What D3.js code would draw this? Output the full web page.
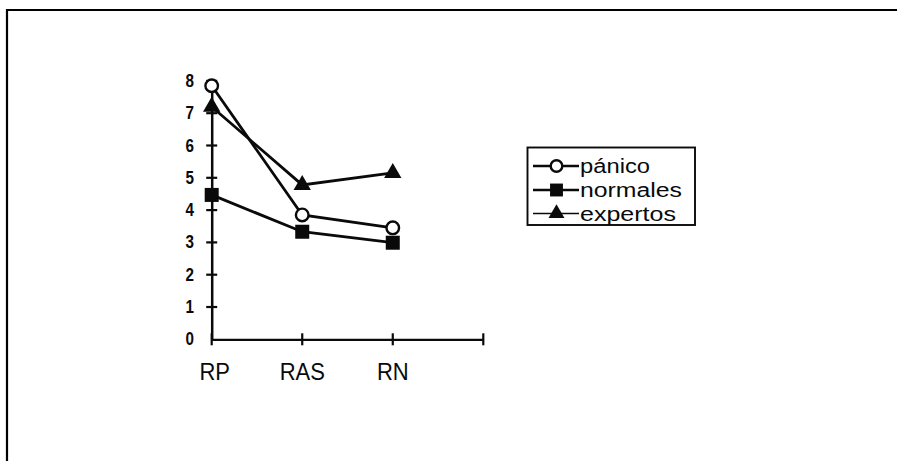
<!DOCTYPE html>
<html><head><meta charset="utf-8">
<script src="https://cdn.jsdelivr.net/npm/d3@7"></script>
<style>body{margin:0;background:#fff}svg{display:block}</style>
</head><body>
<script>
const categories = ["RP", "RAS", "RN"];
const panico = [7.85, 3.85, 3.45];
const normales = [4.47, 3.33, 2.99];
const expertos = [7.2, 4.78, 5.15];
const seriesNames = ["pánico", "normales", "expertos"];
const yTicks = [0, 1, 2, 3, 4, 5, 6, 7, 8];

const W = 897, H = 461;
const svg = d3.select("body").append("svg").attr("width", W).attr("height", H);

// frame (top + left edges only)
svg.append("path").attr("d", `M7,${H} V10 H${W}`).attr("fill", "none")
  .attr("stroke", "#000").attr("stroke-width", 2.2);

const x = d3.scaleLinear().domain([0, 3]).range([211.7, 483.3]);
const y = d3.scaleLinear().domain([0, 8]).range([339.3, 80.9]);

const ink = "#0a0a0a";
const font = "Arial, 'Liberation Sans', sans-serif";
// y axis
const yAxis = svg.append("g").attr("transform", `translate(${x(0)},0)`)
  .call(d3.axisLeft(y).tickValues(yTicks).tickSize(0).tickFormat(""));
yAxis.select(".domain").attr("stroke", ink).attr("stroke-width", 2.5);
svg.append("g").selectAll("line").data(yTicks.slice(1)).join("line")
  .attr("x1", x(0) - 5.5).attr("x2", x(0) + 5.5)
  .attr("y1", d => y(d)).attr("y2", d => y(d))
  .attr("stroke", ink).attr("stroke-width", 2.2);
svg.append("g").selectAll("text").data(yTicks).join("text")
  .attr("transform", d => `translate(194,${y(d) + 6}) scale(0.95,1.1)`)
  .attr("text-anchor", "end")
  .attr("font-family", font)
  .attr("font-weight", "bold").attr("font-size", 16).attr("fill", ink)
  .text(d => d);

// x axis
const xAxis = svg.append("g").attr("transform", `translate(0,${y(0)})`)
  .call(d3.axisBottom(x).tickValues([0, 1, 2, 3]).tickSize(0).tickFormat(""));
xAxis.select(".domain").attr("stroke", ink).attr("stroke-width", 2.3);
svg.append("g").selectAll("line").data([0, 1, 2, 3]).join("line")
  .attr("x1", d => x(d)).attr("x2", d => x(d))
  .attr("y1", y(0) - 6).attr("y2", y(0) + 6)
  .attr("stroke", ink).attr("stroke-width", 2.2);
svg.append("g").selectAll("text").data(categories).join("text")
  .attr("transform", (d, i) => `translate(${x(i) + (i === 0 ? 3 : 0)},380) scale(1,1.12)`)
  .attr("text-anchor", "middle")
  .attr("font-family", font)
  .attr("font-size", 22).attr("fill", ink)
  .text(d => d);

const line = d3.line().x((d, i) => x(i)).y(d => y(d));
const data = [panico, normales, expertos];
svg.append("g").selectAll("path").data(data).join("path")
  .attr("d", line).attr("fill", "none").attr("stroke", ink).attr("stroke-width", 2.8);

function marker(g, type, cx, cy, s) {
  if (type === 0) {
    g.append("circle").attr("cx", cx).attr("cy", cy).attr("r", 6.3 * s)
      .attr("fill", "#fff").attr("stroke", ink).attr("stroke-width", 2.4);
  } else if (type === 1) {
    const a = 14 * s;
    g.append("rect").attr("x", cx - a / 2).attr("y", cy - a / 2).attr("width", a).attr("height", a)
      .attr("fill", ink);
  } else {
    const sym = d3.symbol().type(d3.symbolTriangle).size(130 * s * s);
    g.append("path").attr("d", sym()).attr("transform", `translate(${cx},${cy})`).attr("fill", ink);
  }
}
const mg = svg.append("g");
data.forEach((arr, si) => arr.forEach((v, i) => marker(mg, si, x(i), y(v), 1)));

// legend
const lg = svg.append("g");
lg.append("rect").attr("x", 527.5).attr("y", 147.5).attr("width", 167.5).attr("height", 77.5)
  .attr("fill", "#fff").attr("stroke", ink).attr("stroke-width", 1.9);
const rowY = [166, 190, 213.5];
seriesNames.forEach((name, i) => {
  lg.append("line").attr("x1", 533).attr("x2", 579).attr("y1", rowY[i]).attr("y2", rowY[i])
    .attr("stroke", ink).attr("stroke-width", i === 2 ? 1.7 : 2.6);
  marker(lg, i, 556.5, rowY[i], 0.92);
  lg.append("text").attr("x", 580).attr("y", rowY[i] + 7)
    .attr("font-family", font)
    .attr("font-size", 20).attr("fill", ink)
    .attr("textLength", i === 0 ? 70 : (i === 1 ? 102 : 96))
    .attr("lengthAdjust", "spacingAndGlyphs")
    .text(name);
});
</script>
</body></html>
